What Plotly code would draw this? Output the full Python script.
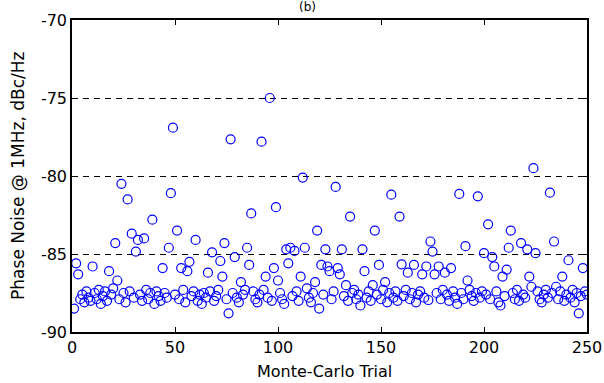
import plotly.graph_objects as go

trials = list(range(1, 251))
phase_noise = [
    -88.5, -85.6, -86.3, -87.9, -87.6, -88.1, -87.4, -87.8, -88.0, -85.8,
    -87.5, -87.9, -87.3, -88.2, -87.7, -87.4, -88.0, -86.1, -87.6, -87.2,
    -84.3, -86.7, -87.9, -80.5, -87.5, -88.1, -81.5, -87.4, -83.7, -87.8,
    -84.85, -84.1, -87.6, -88.0, -84.0, -87.3, -87.9, -87.5, -82.8, -88.2,
    -87.4, -87.7, -88.0, -85.9, -87.5, -87.8, -84.6, -81.1, -76.9, -87.6,
    -83.5, -87.9, -85.9, -87.3, -88.1, -86.1, -85.5, -87.7, -87.4, -84.1,
    -88.0, -87.6, -88.2, -87.5, -87.8, -86.2, -87.4, -84.9, -88.0, -87.7,
    -87.3, -85.45, -86.45, -84.3, -87.9, -88.8, -77.65, -87.5, -85.2, -87.8,
    -88.1, -86.8, -87.6, -87.3, -84.6, -85.7, -82.4, -87.4, -87.9, -88.1,
    -87.6, -77.8, -87.3, -86.45, -87.8, -75.0, -88.0, -85.9, -82.0, -86.7,
    -87.5, -87.9, -88.2, -84.7, -85.6, -84.6, -87.7, -84.8, -87.4, -88.0,
    -86.45, -80.1, -84.6, -87.2, -87.8, -88.1, -87.5, -86.8, -83.5, -88.5,
    -85.7, -87.6, -84.7, -85.8, -86.1, -87.9, -87.4, -80.7, -85.9, -86.3,
    -84.7, -87.7, -87.0, -88.0, -82.6, -87.5, -87.3, -87.9, -87.6, -88.3,
    -84.7, -86.1, -87.8, -87.4, -88.0, -87.0, -83.5, -87.6, -85.7, -87.9,
    -87.3, -86.8, -88.1, -87.5, -81.2, -87.8, -87.4, -88.0, -82.6, -85.66,
    -87.7, -87.3, -86.2, -87.9, -87.5, -85.7, -88.1, -87.6, -87.4, -86.3,
    -87.8, -85.8, -87.95, -84.2, -84.85, -86.3, -87.5, -85.8, -87.9, -87.3,
    -86.2, -87.6, -88.0, -85.9, -87.4, -87.8, -88.2, -81.15, -87.5, -87.9,
    -84.5, -86.7, -87.3, -87.7, -88.0, -87.5, -81.3, -87.8, -87.4, -84.95,
    -87.6, -83.1, -87.9, -85.2, -85.8, -87.4, -88.1, -88.3, -86.45, -87.7,
    -86.0, -84.6, -83.5, -87.5, -87.9, -87.3, -88.0, -84.3, -87.6, -87.8,
    -84.7, -86.45, -87.1, -79.5, -84.95, -87.4, -87.9, -88.1, -87.6, -87.3,
    -87.8, -81.07, -87.5, -84.2, -87.1, -87.9, -87.4, -86.45, -88.0, -87.6,
    -85.4, -87.8, -87.3, -88.1, -87.5, -88.8, -87.7, -85.9, -87.4, -87.6,
]

x_ticks = [0, 50, 100, 150, 200, 250]
y_ticks = [-90, -85, -80, -75, -70]
x_title = "Monte-Carlo Trial"
y_title = "Phase Noise @ 1MHz, dBc/Hz"
panel_label = "(b)"

font_family = "DejaVu Sans, Liberation Sans, sans-serif"

fig = go.Figure()
fig.add_trace(go.Scatter(
    x=trials, y=phase_noise, mode="markers",
    marker=dict(symbol="circle-open", size=9, color="#0000FF",
                line=dict(width=1.2, color="#0000FF")),
    showlegend=False,
))

fig.update_layout(
    width=604, height=383,
    margin=dict(l=72, r=17, t=20, b=51),
    paper_bgcolor="white", plot_bgcolor="white",
    font=dict(family=font_family, size=14, color="black"),
    xaxis=dict(
        range=[0, 250], tickvals=x_ticks, ticktext=[str(v) for v in x_ticks],
        showgrid=False, zeroline=False, automargin=False,
        showline=True, linecolor="black", linewidth=1.5, mirror="ticks",
        ticks="inside", ticklen=5, tickcolor="black",
        tickfont=dict(size=16),
    ),
    yaxis=dict(
        range=[-90, -70], tickvals=y_ticks, ticktext=[str(v) for v in y_ticks],
        showgrid=True, gridcolor="black", gridwidth=1, griddash="6px,5px",
        zeroline=False, automargin=False,
        showline=True, linecolor="black", linewidth=1.5, mirror="ticks",
        ticks="inside", ticklen=5, tickcolor="black",
        tickfont=dict(size=16),
    ),
    annotations=[
        dict(text=panel_label, x=0.458, y=1.042, xref="paper", yref="paper",
             xanchor="center", yanchor="middle", showarrow=False,
             font=dict(size=12)),
        dict(text=x_title, x=0.491, y=-0.128, xref="paper", yref="paper",
             xanchor="center", yanchor="middle", showarrow=False,
             font=dict(size=16)),
        dict(text=y_title, x=-0.105, y=0.5, xref="paper", yref="paper",
             xanchor="center", yanchor="middle", showarrow=False,
             textangle=-90, font=dict(size=17)),
    ],
)

fig.write_html("out.html")
